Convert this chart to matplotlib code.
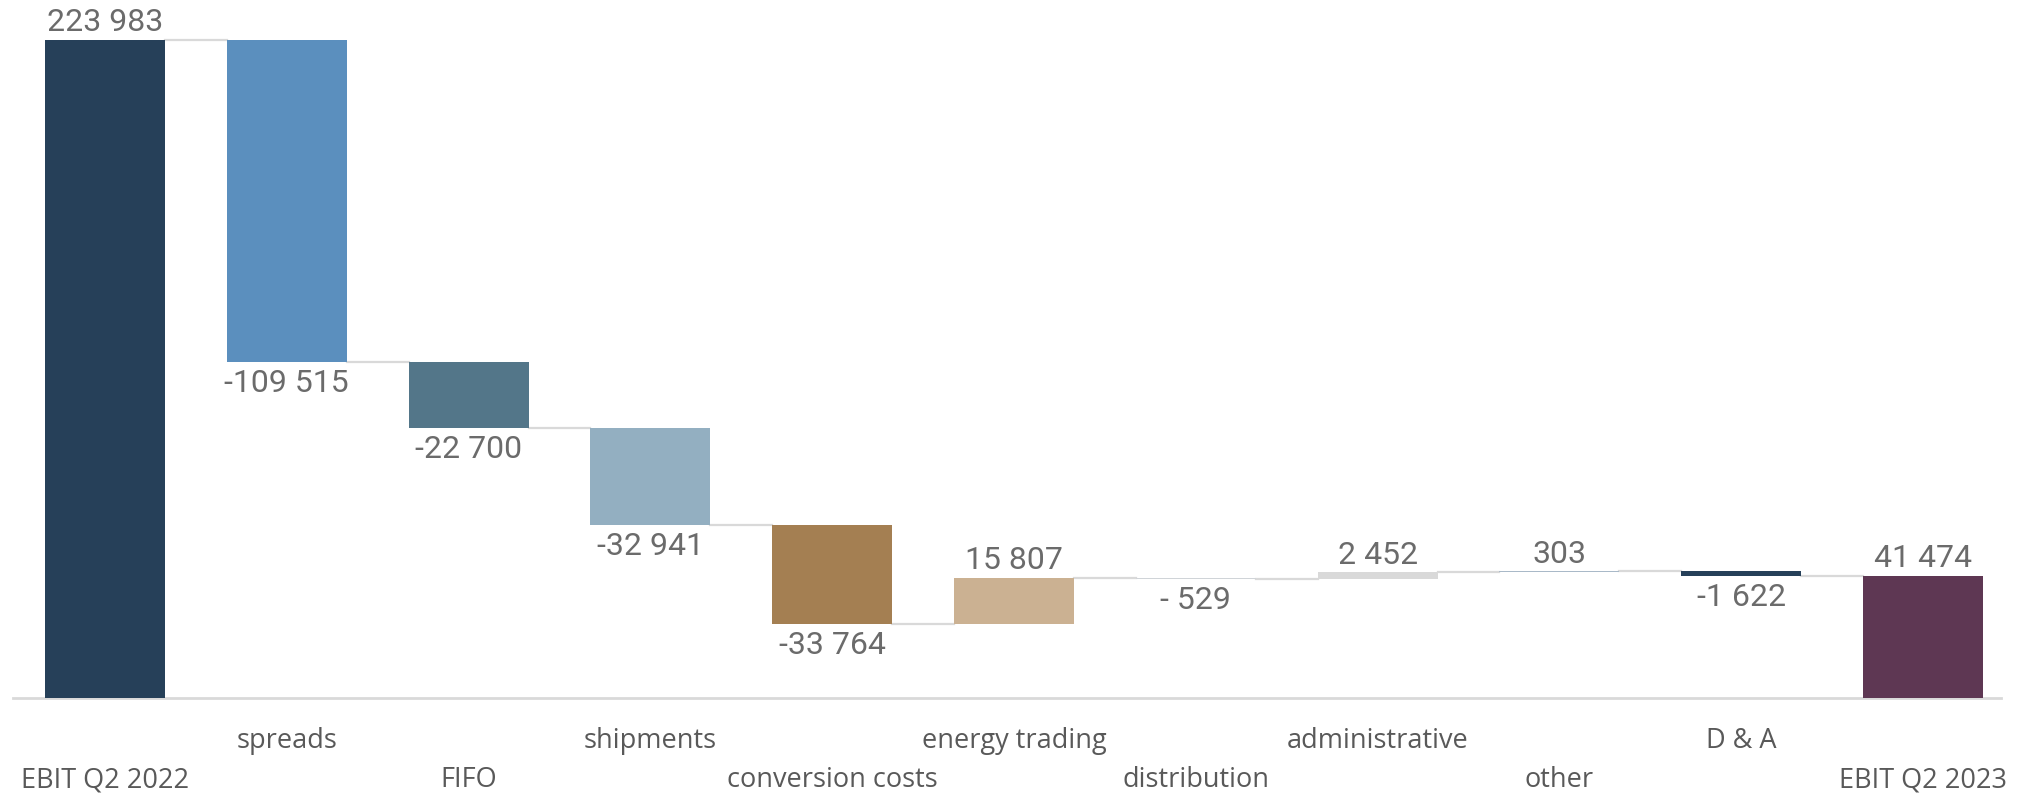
import matplotlib.pyplot as plt
import numpy as np

categories = ["EBIT Q2 2022", "spreads", "FIFO", "shipments", "conversion costs",
              "energy trading", "distribution", "administrative", "other", "D & A",
              "EBIT Q2 2023"]
values = [223983, -109515, -22700, -32941, -33764, 15807, -529, 2452, 303, -1622, 41474]
value_labels = ["223 983", "-109 515", "-22 700", "-32 941", "-33 764", "15 807",
                "- 529", "2 452", "303", "-1 622", "41 474"]
colors = ["#264059", "#5B8FBE", "#537689", "#93AFC1", "#A47F52", "#CBB192",
          "#D0D4D8", "#D9D9D9", "#A9B9C8", "#264059", "#5E3753"]

n = len(values)
x = np.arange(n)
bottoms = []
heights = []
running = 0
for i, v in enumerate(values):
    if i == 0 or i == n - 1:
        bottoms.append(0)
        heights.append(v)
        running = v
    else:
        bottoms.append(running + min(v, 0))
        heights.append(abs(v))
        running += v

fig = plt.figure(figsize=(20.27, 7.95), dpi=100)
ax = fig.add_axes([13 / 2027, 97 / 795, 1988 / 2027, 698 / 795])
width = 0.66
ax.bar(x, heights, bottom=bottoms, width=width, color=colors, zorder=3)

# connectors between consecutive bars
running = values[0]
for i in range(n - 1):
    ax.plot([i + width / 2, i + 1 - width / 2], [running, running],
            color="#D9D9D9", lw=1.6, zorder=2)
    if i + 1 < n - 1:
        running += values[i + 1]

# value labels
for i, v in enumerate(values):
    top = bottoms[i] + heights[i]
    if v >= 0:
        ax.annotate(value_labels[i], (i, top), xytext=(0, 2), textcoords="offset points",
                    ha="center", va="bottom", fontsize=23, color="#6B6B6B",
                    family="Roboto")
    else:
        ax.annotate(value_labels[i], (i, bottoms[i]), xytext=(0, -5),
                    textcoords="offset points", ha="center", va="top",
                    fontsize=23, color="#6B6B6B", family="Roboto")

# category labels on two staggered rows
for i, c in enumerate(categories):
    y = -0.062 if i % 2 else -0.118
    ax.text(i, y, c, transform=ax.get_xaxis_transform(), ha="center", va="center",
            fontsize=19.5, color="#595959", family="Open Sans")

ax.set_xlim(-(105 - 13) / 181.8, 10 + (2001 - 1923) / 181.8)
ax.set_ylim(0, 223983 * 698 / 658)
for s in ["top", "right", "left"]:
    ax.spines[s].set_visible(False)
ax.spines["bottom"].set_color("#D9D9D9")
ax.spines["bottom"].set_linewidth(2)
ax.set_xticks([])
ax.set_yticks([])

fig.savefig("out.png", dpi=100)
